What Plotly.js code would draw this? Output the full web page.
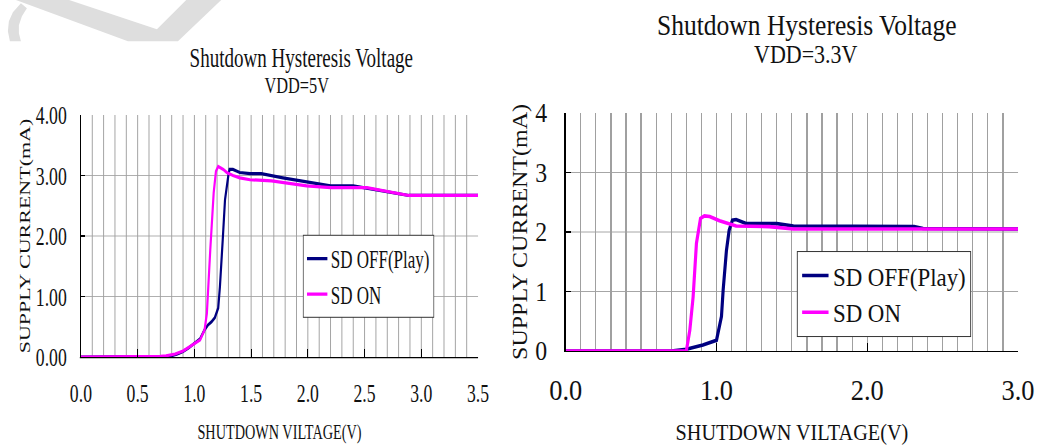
<!DOCTYPE html>
<html>
<head>
<meta charset="utf-8">
<script src="https://cdn.plot.ly/plotly-3.0.1.min.js"></script>
<style>
  html, body { margin:0; padding:0; background:#ffffff; overflow:hidden; width:1041px; height:448px; }
  #left  { position:absolute; left:0; top:0; width:742px; height:448px; transform:scaleX(0.68); transform-origin:0 0; }
  #right { position:absolute; left:505px; top:0; width:609px; height:448px; transform:scaleX(0.88); transform-origin:0 0; }
</style>
</head>
<body>
<div id="left"></div>
<div id="right"></div>
<script>
// ---------- data: VDD = 5V ----------
const vdd5_off_v = [0, 0.70, 0.78, 0.85, 0.90, 0.95, 1.00, 1.05, 1.09, 1.12, 1.15, 1.18, 1.21, 1.225, 1.25, 1.27, 1.30, 1.31, 1.34, 1.37, 1.40, 1.49, 1.59, 1.78, 1.99, 2.20, 2.40, 2.52, 2.65, 2.75, 2.89, 3.50];
const vdd5_off_i = [0, 0, 0.01, 0.05, 0.09, 0.15, 0.22, 0.30, 0.45, 0.53, 0.58, 0.65, 0.81, 1.16, 1.94, 2.60, 3.01, 3.10, 3.10, 3.07, 3.05, 3.03, 3.03, 2.96, 2.90, 2.83, 2.83, 2.79, 2.74, 2.72, 2.67, 2.67];
const vdd5_on_v  = [0, 0.65, 0.70, 0.75, 0.83, 0.90, 0.99, 1.05, 1.09, 1.10, 1.11, 1.14, 1.17, 1.19, 1.21, 1.255, 1.285, 1.34, 1.40, 1.49, 1.68, 1.99, 2.20, 2.52, 2.65, 2.89, 3.50];
const vdd5_on_i  = [0, 0, 0.01, 0.02, 0.05, 0.10, 0.20, 0.28, 0.45, 0.61, 0.72, 1.77, 2.71, 3.07, 3.15, 3.10, 3.05, 3.00, 2.96, 2.93, 2.91, 2.83, 2.80, 2.80, 2.75, 2.67, 2.67];

// ---------- data: VDD = 3.3V ----------
const vdd33_off_v = [0, 0.70, 0.80, 0.91, 1.00, 1.033, 1.044, 1.066, 1.084, 1.106, 1.13, 1.20, 1.29, 1.40, 1.51, 1.80, 1.91, 2.31, 2.37, 3.00];
const vdd33_off_i = [0, 0, 0.03, 0.10, 0.18, 0.58, 1.02, 1.69, 2.03, 2.20, 2.21, 2.14, 2.14, 2.14, 2.10, 2.10, 2.09, 2.09, 2.06, 2.05];
const vdd33_on_v  = [0, 0.80, 0.823, 0.845, 0.867, 0.894, 0.92, 0.955, 1.02, 1.13, 1.35, 1.51, 3.00];
const vdd33_on_i  = [0, 0, 0.35, 0.91, 1.81, 2.23, 2.27, 2.26, 2.19, 2.10, 2.09, 2.05, 2.05];

// ---------- labels ----------
const seriesNames = ["SD OFF(Play)", "SD ON"];
const seriesColors = ["#000080", "#FF00FF"];
const titleLine = "Shutdown Hysteresis Voltage";
const vddLabels = ["VDD=5V", "VDD=3.3V"];
const xTitle = "SHUTDOWN VILTAGE(V)";
const yTitle = "SUPPLY CURRENT(mA)";

const FONT = "Liberation Serif, DejaVu Serif, serif";
const GRID = "#a0a0a0";

function axisX(range, dtick, tickSize, titleSize, standoff, tls) {
  return {
    range: range, dtick: dtick, tick0: 0, tickformat: ".1f",
    showgrid: true, gridcolor: GRID, gridwidth: 1.4,
    minor: { dtick: 0.1, showgrid: true, gridcolor: GRID, gridwidth: 1.4, ticks: "" },
    ticks: "inside", ticklen: 8, tickwidth: 1.5, tickcolor: "#000",
    showline: true, linecolor: "#000", linewidth: 1.2, zeroline: false,
    ticklabelstandoff: tls,
    tickfont: { family: FONT, size: tickSize, color: "#111" },
    title: { text: xTitle, font: { family: FONT, size: titleSize, color: "#111" }, standoff: standoff },
    fixedrange: true
  };
}
function axisY(fmt, tickSize, titleSize, standoff, tls) {
  return {
    range: [0, 4], dtick: 1, tick0: 0, tickformat: fmt,
    showgrid: true, gridcolor: GRID, gridwidth: 1,
    ticks: "inside", ticklen: 6, tickwidth: 1.5, tickcolor: "#000",
    showline: true, linecolor: "#000", linewidth: 1.6, zeroline: false,
    ticklabelstandoff: tls,
    tickfont: { family: FONT, size: tickSize, color: "#111" },
    title: { text: yTitle, font: { family: FONT, size: titleSize, color: "#111" }, standoff: standoff },
    fixedrange: true
  };
}
function traces(v1, i1, v2, i2, w) {
  return [
    { x: v1, y: i1, type: "scatter", mode: "lines", name: seriesNames[0], line: { color: seriesColors[0], width: w } },
    { x: v2, y: i2, type: "scatter", mode: "lines", name: seriesNames[1], line: { color: seriesColors[1], width: w } }
  ];
}

// watermark (light grey logo fragment), in final pixel coords of the left panel
function px2paper(x, y) { return [((x - 81) / 397).toFixed(4), ((357 - y) / 241.5).toFixed(4)]; }
function polyPath(pts) {
  return "M " + pts.map(p => px2paper(p[0], p[1]).join(",")).join(" L ") + " Z";
}
const wmV = [[14,0],[67,0],[157,30],[187,0],[222,0],[178,42],[128,42]];
const wmArc = [[10,42],[8,32],[9,22],[13,13],[21,4],[27,9],[22,17],[19,26],[19,34],[21,42]];

const layoutLeft = {
  width: 742, height: 448,
  margin: { l: 119, r: 39, t: 115, b: 91 },
  paper_bgcolor: "rgba(0,0,0,0)", plot_bgcolor: "#ffffff",
  font: { family: FONT, color: "#111" },
  showlegend: true,
  title: { text: titleLine, font: { family: FONT, size: 28, color: "#111" }, x: 0.555, xref: "paper", xanchor: "center", y: 1 - 57/448, yref: "container", yanchor: "middle" },
  annotations: [{ text: vddLabels[0], xref: "paper", yref: "paper", x: 0.544, y: (357-86)/241.5, xanchor: "center", yanchor: "middle", showarrow: false, font: { family: FONT, size: 24, color: "#111" } }],
  xaxis: axisX([0, 3.5], 0.5, 26, 21, 17, 13),
  yaxis: axisY(".2f", 26, 22, 2, 14),
  legend: { x: 0.559, y: 0.505, xanchor: "left", yanchor: "top", bgcolor: "#ffffff", bordercolor: "#333", borderwidth: 1, font: { family: FONT, size: 25, color: "#111" }, tracegroupgap: 0 },
  shapes: [
    { type: "path", xref: "paper", yref: "paper", path: polyPath(wmV), fillcolor: "#dedede", line: { width: 0 }, layer: "below" },
    { type: "path", xref: "paper", yref: "paper", path: polyPath(wmArc), fillcolor: "#dedede", line: { width: 0 }, layer: "below" }
  ]
};

const layoutRight = {
  width: 609, height: 448,
  margin: { l: 69, r: 26, t: 113, b: 97 },
  paper_bgcolor: "rgba(0,0,0,0)", plot_bgcolor: "#ffffff",
  font: { family: FONT, color: "#111" },
  showlegend: true,
  title: { text: titleLine, font: { family: FONT, size: 29, color: "#111" }, x: 0.533, xref: "paper", xanchor: "center", y: 1 - 25/448, yref: "container", yanchor: "middle" },
  annotations: [{ text: vddLabels[1], xref: "paper", yref: "paper", x: 0.531, y: (351-55)/238, xanchor: "center", yanchor: "middle", showarrow: false, font: { family: FONT, size: 25, color: "#111" } }],
  xaxis: axisX([0, 3.0], 1.0, 30, 23, 18, 12),
  yaxis: axisY("d", 27, 24, 2, 14),
  legend: { x: 0.511, y: 0.42, xanchor: "left", yanchor: "top", bgcolor: "#ffffff", bordercolor: "#333", borderwidth: 1, font: { family: FONT, size: 26, color: "#111" }, tracegroupgap: 0 }
};

const cfg = { staticPlot: true, displayModeBar: false };
Plotly.newPlot("left", traces(vdd5_off_v, vdd5_off_i, vdd5_on_v, vdd5_on_i, 3.2), layoutLeft, cfg);
Plotly.newPlot("right", traces(vdd33_off_v, vdd33_off_i, vdd33_on_v, vdd33_on_i, 3.6), layoutRight, cfg);
</script>
</body>
</html>
